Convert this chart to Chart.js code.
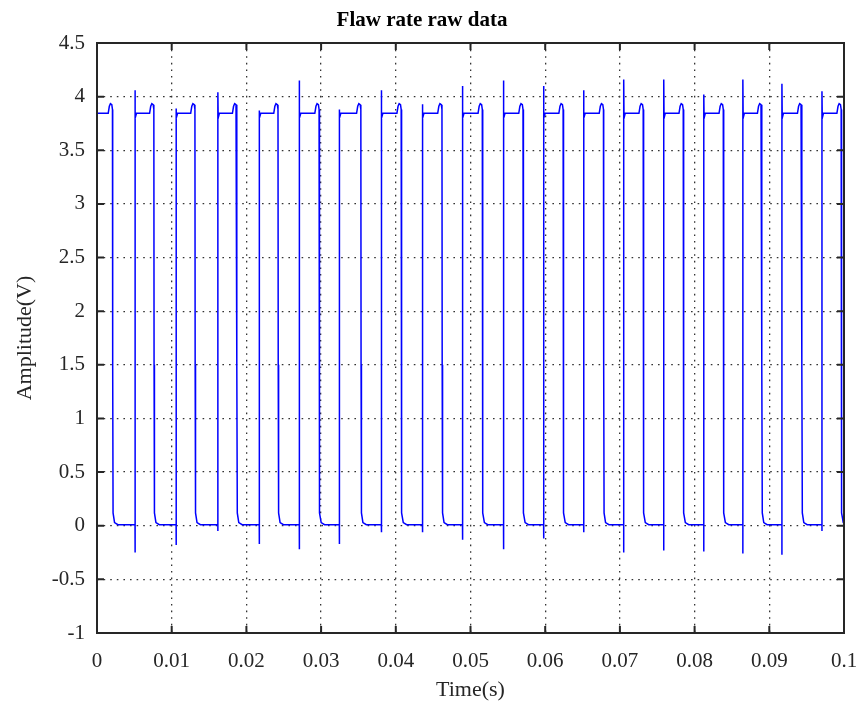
<!DOCTYPE html>
<html>
<head>
<meta charset="utf-8">
<script src="https://cdn.jsdelivr.net/npm/chart.js@4/dist/chart.umd.min.js"></script>
<style>
  html, body { margin: 0; padding: 0; background: #ffffff; }
  #wrap { width: 860px; height: 707px; }
</style>
</head>
<body>
<div id="wrap"><canvas id="flaw-chart" width="860" height="707"></canvas></div>
<script>
// (seconds / volts)
const riseTimes = [0.00509, 0.01059, 0.01618, 0.02172, 0.02708, 0.03244, 0.03807, 0.04357, 0.04893,
  0.05442, 0.05979, 0.06515, 0.07051, 0.07587, 0.08123, 0.08646, 0.09169, 0.09705];
const fallTimes = [0.00210, 0.00764, 0.01314, 0.01873, 0.02426, 0.02976, 0.03535, 0.04075, 0.04621, 0.05161,
  0.05706, 0.06243, 0.06783, 0.07315, 0.07851, 0.08387, 0.08901, 0.09437, 0.09965];
const spikeUp = [4.06, 3.89, 4.04, 3.87, 4.15, 3.88, 4.06, 3.93, 4.10, 4.15, 4.10, 4.06, 4.16, 4.16, 4.02, 4.16, 4.12, 4.05];
const spikeDown = [-0.25, -0.18, -0.05, -0.17, -0.22, -0.17, -0.06, -0.06, -0.13, -0.22, -0.12, -0.06, -0.25, -0.23, -0.24, -0.26, -0.27, -0.05];

const highLevel = 3.845;
const lowLevel = 0.01;
// small bump just before each falling edge, and the settle after it
const bumpOffsets = [-0.0006, -0.00045, -0.0003, -0.00012, -0.00003];
const bumpValues = [3.845, 3.91, 3.934, 3.925, 3.88];
const settleOffsets = [0.00005, 0.00025, 0.0007];
const settleValues = [0.12, 0.03, lowLevel];

const xTicks = [0, 0.01, 0.02, 0.03, 0.04, 0.05, 0.06, 0.07, 0.08, 0.09, 0.1];
const xTickLabels = ['0', '0.01', '0.02', '0.03', '0.04', '0.05', '0.06', '0.07', '0.08', '0.09', '0.1'];
const yTicks = [-1, -0.5, 0, 0.5, 1, 1.5, 2, 2.5, 3, 3.5, 4, 4.5];
const yTickLabels = ['-1', '-0.5', '0', '0.5', '1', '1.5', '2', '2.5', '3', '3.5', '4', '4.5'];

// assemble the trace from the edges
const trace = [{ x: 0, y: highLevel }];
const addFall = (f) => {
  bumpOffsets.forEach((o, k) => trace.push({ x: f + o, y: bumpValues[k] }));
  trace.push({ x: f, y: 1.5 });
  settleOffsets.forEach((o, k) => trace.push({ x: f + o, y: settleValues[k] }));
};
addFall(fallTimes[0]);
riseTimes.forEach((r, i) => {
  trace.push({ x: r, y: lowLevel });
  trace.push({ x: r, y: spikeDown[i] });
  trace.push({ x: r, y: spikeUp[i] });
  trace.push({ x: r + 0.00004, y: 3.80 });
  trace.push({ x: r + 0.0002, y: highLevel });
  addFall(fallTimes[i + 1]);
});
trace.push({ x: 0.1, y: lowLevel });

const serif = 'Liberation Serif, Times New Roman, serif';
const ink = '#262626';

// MATLAB style box with inward tick marks
const boxPlugin = {
  id: 'matlabBox',
  afterDraw(chart) {
    const { ctx, chartArea: a, scales: { x, y } } = chart;
    ctx.save();
    ctx.strokeStyle = ink;
    ctx.lineWidth = 2;
    ctx.strokeRect(a.left, a.top, a.right - a.left, a.bottom - a.top);
    ctx.beginPath();
    xTicks.forEach(v => {
      const px = x.getPixelForValue(v);
      ctx.moveTo(px, a.bottom); ctx.lineTo(px, a.bottom - 7);
      ctx.moveTo(px, a.top); ctx.lineTo(px, a.top + 7);
    });
    yTicks.forEach(v => {
      const py = y.getPixelForValue(v);
      ctx.moveTo(a.left, py); ctx.lineTo(a.left + 7, py);
      ctx.moveTo(a.right, py); ctx.lineTo(a.right - 7, py);
    });
    ctx.stroke();
    ctx.restore();
  }
};

new Chart(document.getElementById('flaw-chart'), {
  type: 'line',
  data: {
    datasets: [{
      data: trace,
      borderColor: '#0000ff',
      borderWidth: 1.5,
      pointRadius: 0,
      tension: 0,
      fill: false
    }]
  },
  options: {
    responsive: false,
    animation: false,
    events: [],
    layout: { padding: { left: 0, right: 16, top: 0, bottom: 0 } },
    plugins: {
      legend: { display: false },
      tooltip: { enabled: false },
      title: {
        display: true,
        text: 'Flaw rate raw data',
        color: '#000000',
        font: { family: serif, size: 21, weight: 'bold', lineHeight: 1.2 },
        padding: { top: 8, bottom: 9.8 }
      }
    },
    scales: {
      x: {
        type: 'linear',
        min: 0, max: 0.1,
        afterBuildTicks: (s) => { s.ticks = xTicks.map(v => ({ value: v })); },
        afterFit: (s) => { s.height = 74; s.paddingLeft = 0; s.paddingRight = 0; },
        ticks: {
          color: ink, padding: 16,
          font: { family: serif, size: 21 },
          maxRotation: 0, autoSkip: false,
          callback: (v, i) => xTickLabels[i]
        },
        grid: { color: '#333333', lineWidth: 1.3, drawTicks: false },
        border: { display: false, dash: [1.6, 5] },
        title: {
          display: true, text: 'Time(s)', color: ink,
          font: { family: serif, size: 22, lineHeight: 1.2 },
          padding: { top: 0, bottom: 4 }
        }
      },
      y: {
        min: -1, max: 4.5,
        afterBuildTicks: (s) => { s.ticks = yTicks.map(v => ({ value: v })); },
        afterFit: (s) => { s.width = 97; s.paddingTop = 0; s.paddingBottom = 0; },
        ticks: {
          color: ink, padding: 12,
          font: { family: serif, size: 21 },
          autoSkip: false,
          callback: (v, i) => yTickLabels[i]
        },
        grid: { color: '#333333', lineWidth: 1.3, drawTicks: false },
        border: { display: false, dash: [1.6, 5] },
        title: {
          display: true, text: 'Amplitude(V)', color: ink,
          font: { family: serif, size: 22, lineHeight: 1.2 },
          padding: { top: 12, bottom: 0 }
        }
      }
    }
  },
  plugins: [boxPlugin]
});
</script>
</body>
</html>
